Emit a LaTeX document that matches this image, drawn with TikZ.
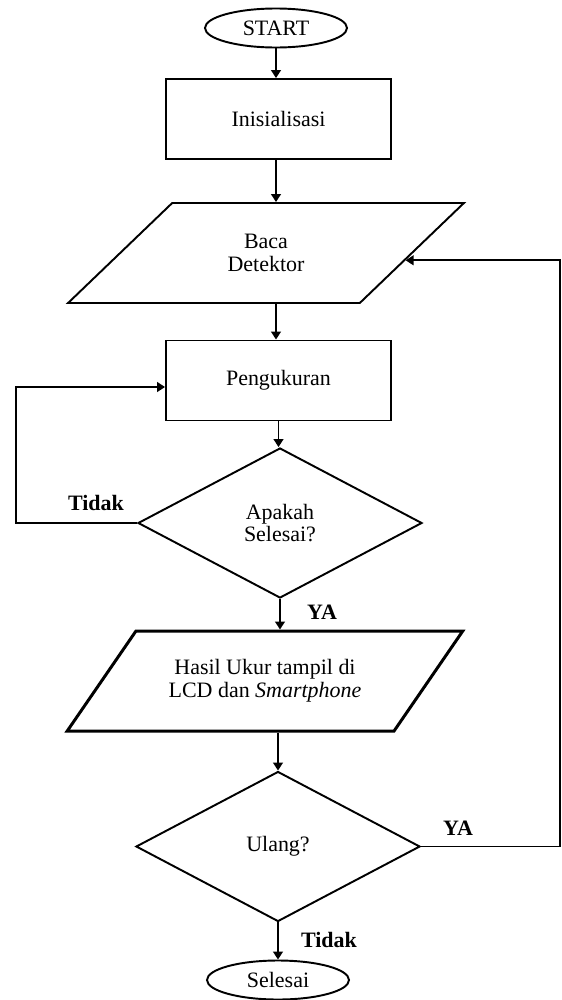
\documentclass[tikz,border=0pt]{standalone}
\usepackage{fontspec}
\setmainfont{Liberation Serif}
\usepackage{tikz}
\usetikzlibrary{arrows.meta,positioning,calc,shapes}
\tikzset{%
  flow directed/.style={%
    line width=1.1pt,
    >={Triangle[length=4.5pt,width=5.5pt]},
    ->
  }
}
\tikzset{%
  terminal/.style={%
    draw, ellipse, line width=1.1pt, inner sep=0pt,
    minimum width=2.84cm, minimum height=0.78cm
  }
}
\tikzset{%
  process box/.style={%
    draw, rectangle, line width=1.1pt,
    minimum width=4.5cm, minimum height=1.6cm
  }
}
\tikzset{%
  io box/.style={%
    draw, trapezium, trapezium left angle=45, trapezium right angle=135,
    trapezium stretches=true, line width=1.1pt, align=center,
    minimum width=7.92cm, minimum height=2cm
  }
}
\tikzset{%
  decision/.style={%
    draw, diamond, line width=1.1pt, inner sep=0pt, align=center,
    minimum width=5.68cm, minimum height=3cm
  }
}

\begin{document}
\begin{tikzpicture}[font=\fontsize{12.5}{13}\selectfont]
  \useasboundingbox (0,0) rectangle (11.24,-20);
  \node [terminal] (start) at (5.52, -0.56) {START};
  \node [process box] (init) at (5.57, -2.38) {Inisialisasi};
  \node [io box] (baca) at (5.32, -5.06) {Baca\\Detektor};
  \node [process box] (peng) at (5.57, -7.61) {Pengukuran};
  \node [decision] (selesaiq) at (5.6, -10.46) {Apakah\\Selesai?};
  \node [io box, line width=1.7pt] (hasil) at (5.3, -13.62) {Hasil Ukur tampil di\\LCD dan \textit{Smartphone}};
  \node [decision] (ulang) at (5.56, -16.93) {Ulang?};
  \node [terminal] (stop) at (5.56, -19.6) {Selesai};
  \node (tidak1) at (1.92, -10.06) {\textbf{Tidak}};
  \node (ya1) at (6.44, -12.24) {\textbf{YA}};
  \node (ya2) at (9.16, -16.56) {\textbf{YA}};
  \node (tidak2) at (6.58, -18.8) {\textbf{Tidak}};
  \coordinate (ljog) at (0.32, -10.46);
  \coordinate (rjog) at (11.2, -16.93);
  \draw [flow directed] (start.south) -- (start.south |- init.north);
  \draw [flow directed] (start.south |- init.south) -- (start.south |- baca.north);
  \draw [flow directed, line width=1.7pt] (start.south |- baca.south) -- (start.south |- peng.north);
  \draw [flow directed] (peng.south) -- (peng.south |- selesaiq.north);
  \draw [flow directed] (selesaiq.south) -- (selesaiq.south |- hasil.north);
  \draw [flow directed] (ulang.north |- hasil.south) -- (ulang.north);
  \draw [flow directed] (ulang.south) -- (stop.north);
  \draw [flow directed] (selesaiq.west) -- (ljog) |- ([yshift=-0.13cm]peng.west);
  \draw [flow directed] (ulang.east) -- (rjog) |- (baca.-3);
\end{tikzpicture}
\end{document}
